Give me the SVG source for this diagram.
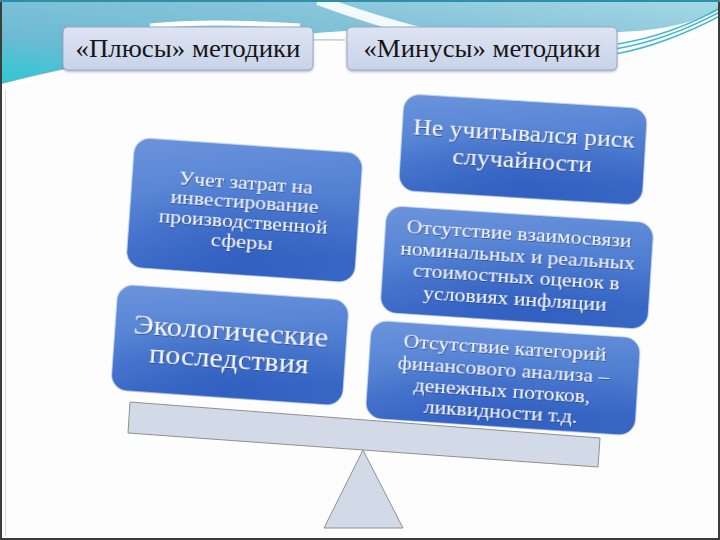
<svg xmlns="http://www.w3.org/2000/svg" width="720" height="540" viewBox="0 0 720 540">
  <defs>
    <linearGradient id="teal" x1="0" y1="1" x2="1" y2="0">
      <stop offset="0" stop-color="#2cc8d6"/>
      <stop offset="0.3" stop-color="#6dbbd3"/>
      <stop offset="0.65" stop-color="#86c4d9"/>
      <stop offset="1" stop-color="#a6d9e6"/>
    </linearGradient>
    <linearGradient id="hdr" x1="0" y1="0" x2="0" y2="1">
      <stop offset="0" stop-color="#dde4f2"/>
      <stop offset="1" stop-color="#c9d3e9"/>
    </linearGradient>
    <linearGradient id="blue" x1="0" y1="0" x2="0.3" y2="1">
      <stop offset="0" stop-color="#6c94dc"/>
      <stop offset="0.5" stop-color="#5482d3"/>
      <stop offset="1" stop-color="#3a68c6"/>
    </linearGradient>
    <radialGradient id="shade" cx="0.5" cy="0.85" r="0.6">
      <stop offset="0" stop-color="#2a58bc" stop-opacity="0.55"/>
      <stop offset="1" stop-color="#2a58bc" stop-opacity="0"/>
    </radialGradient>
    <filter id="tshadow" x="-10%" y="-30%" width="120%" height="160%">
      <feDropShadow dx="0.8" dy="1" stdDeviation="0.6" flood-color="#1b3778" flood-opacity="0.7"/>
    </filter>
    <filter id="hshadow" x="-5%" y="-20%" width="110%" height="150%">
      <feDropShadow dx="0" dy="1.5" stdDeviation="1" flood-color="#6a7a98" flood-opacity="0.5"/>
    </filter>
  </defs>
  <style>
    .hdr-box { fill: url(#hdr); stroke: #9aa8c4; stroke-width: 1; filter: url(#hshadow); }
    .hdr-txt { font-family: "Liberation Serif", "Times New Roman", serif; font-size: 25px; fill: #161616; text-anchor: middle; }
    .bbox { fill: url(#blue); stroke: #c9d8f2; stroke-width: 1.2; stroke-opacity: 0.8; }
    .bshade { fill: url(#shade); }
    .btxt { font-family: "Liberation Serif", "Times New Roman", serif; fill: #f3f5fb; text-anchor: middle; filter: url(#tshadow); }
    .scale { fill: #d2dae8; stroke: #8f8f8f; stroke-width: 1; }
  </style>

  <!-- background -->
  <rect x="0" y="0" width="720" height="540" fill="#fdfdfd"/>
  <path d="M0,0 H720 V10 C695,22 660,32 610,32 C520,30 430,26 345,31 C240,38 120,56 0,84 Z" fill="url(#teal)"/>
  <path d="M318,0 C345,10 380,22 420,32" fill="none" stroke="#ffffff" stroke-width="10" stroke-opacity="0.9"/>
  <path d="M0,86 C100,60 220,40 345,42" fill="none" stroke="#ffffff" stroke-width="4"/>
  <path d="M0,84 C100,58 220,38 345,40" fill="none" stroke="#8aa0b0" stroke-width="0.8"/>
  <path d="M150,26 C190,22 240,22 300,26" fill="none" stroke="#ffffff" stroke-width="5"/>
  <g fill="none" stroke="#3cb7cc" stroke-width="1.5">
    <path d="M615,54 C650,48 690,32 720,16"/>
    <path d="M615,49 C652,43 690,28 720,12"/>
    <path d="M618,44 C655,38 692,24 720,8"/>
  </g>
  <path d="M612,58 C655,52 695,36 720,22" fill="none" stroke="#ffffff" stroke-width="2"/>

  <!-- frame -->
  <rect x="1" y="1" width="718" height="538" fill="none" stroke="#3c3c3c" stroke-width="2"/>
  <line x1="0" y1="1" x2="720" y2="1" stroke="#2f8fa8" stroke-width="2"/>
  <line x1="5.5" y1="90" x2="5.5" y2="536" stroke="#d8d8d8" stroke-width="1"/>

  <!-- scale -->
  <g id="beam">
    <polygon class="scale" points="130,402 600,438 598,467 128,433"/>
  </g>
  <g id="fulcrum">
    <polygon class="scale" points="363,450 403,528 324,528"/>
  </g>

  <!-- headers -->
  <g id="header-plus">
    <rect class="hdr-box" x="63" y="27" width="250" height="43" rx="5"/>
    <text class="hdr-txt" x="188" y="57" textLength="225" lengthAdjust="spacingAndGlyphs">«Плюсы» методики</text>
  </g>
  <g id="header-minus">
    <rect class="hdr-box" x="347" y="27" width="270" height="43" rx="5"/>
    <text class="hdr-txt" x="482" y="57" textLength="237" lengthAdjust="spacingAndGlyphs">«Минусы» методики</text>
  </g>

  <!-- plus boxes -->
  <g id="plus-costs" transform="translate(244,210) rotate(4)">
    <rect class="bbox" x="-114" y="-65" width="229" height="130" rx="16"/>
    <rect class="bshade" x="-114" y="-65" width="229" height="130" rx="16"/>
    <g class="btxt" font-size="18">
      <text x="0" y="-21" textLength="134" lengthAdjust="spacingAndGlyphs">Учет затрат на</text>
      <text x="0" y="-2" textLength="148" lengthAdjust="spacingAndGlyphs">инвестирование</text>
      <text x="0" y="18" textLength="169" lengthAdjust="spacingAndGlyphs">производственной</text>
      <text x="0" y="38" textLength="62" lengthAdjust="spacingAndGlyphs">сферы</text>
    </g>
  </g>
  <g id="plus-ecology" transform="translate(230,345) rotate(4)">
    <rect class="bbox" x="-116" y="-53" width="232" height="106" rx="16"/>
    <rect class="bshade" x="-116" y="-53" width="232" height="106" rx="16"/>
    <g class="btxt" font-size="27">
      <text x="0" y="-5" textLength="195" lengthAdjust="spacingAndGlyphs">Экологические</text>
      <text x="0" y="23" textLength="160" lengthAdjust="spacingAndGlyphs">последствия</text>
    </g>
  </g>

  <!-- minus boxes -->
  <g id="minus-risk" transform="translate(523,150) rotate(3.5)">
    <rect class="bbox" x="-122" y="-49" width="244" height="97" rx="16"/>
    <rect class="bshade" x="-122" y="-49" width="244" height="97" rx="16"/>
    <g class="btxt" font-size="24">
      <text x="0" y="-9" textLength="222" lengthAdjust="spacingAndGlyphs">Не учитывался риск</text>
      <text x="0" y="18" textLength="140" lengthAdjust="spacingAndGlyphs">случайности</text>
    </g>
  </g>
  <g id="minus-inflation" transform="translate(517,267) rotate(3.7)">
    <rect class="bbox" x="-134" y="-53" width="268" height="107" rx="16"/>
    <rect class="bshade" x="-134" y="-53" width="268" height="107" rx="16"/>
    <g class="btxt" font-size="19">
      <text x="0" y="-27" textLength="225" lengthAdjust="spacingAndGlyphs">Отсутствие взаимосвязи</text>
      <text x="0" y="-5" textLength="235" lengthAdjust="spacingAndGlyphs">номинальных и реальных</text>
      <text x="0" y="16" textLength="207" lengthAdjust="spacingAndGlyphs">стоимостных оценок в</text>
      <text x="0" y="38" textLength="184" lengthAdjust="spacingAndGlyphs">условиях инфляции</text>
    </g>
  </g>
  <g id="minus-finance" transform="translate(503,378) rotate(3.8)">
    <rect class="bbox" x="-135" y="-49" width="270" height="98" rx="16"/>
    <rect class="bshade" x="-135" y="-49" width="270" height="98" rx="16"/>
    <g class="btxt" font-size="19">
      <text x="0" y="-24" textLength="203" lengthAdjust="spacingAndGlyphs">Отсутствие категорий</text>
      <text x="0" y="-2" textLength="212" lengthAdjust="spacingAndGlyphs">финансового анализа –</text>
      <text x="0" y="19" textLength="177" lengthAdjust="spacingAndGlyphs">денежных потоков,</text>
      <text x="0" y="40" textLength="154" lengthAdjust="spacingAndGlyphs">ликвидности т.д.</text>
    </g>
  </g>
</svg>
